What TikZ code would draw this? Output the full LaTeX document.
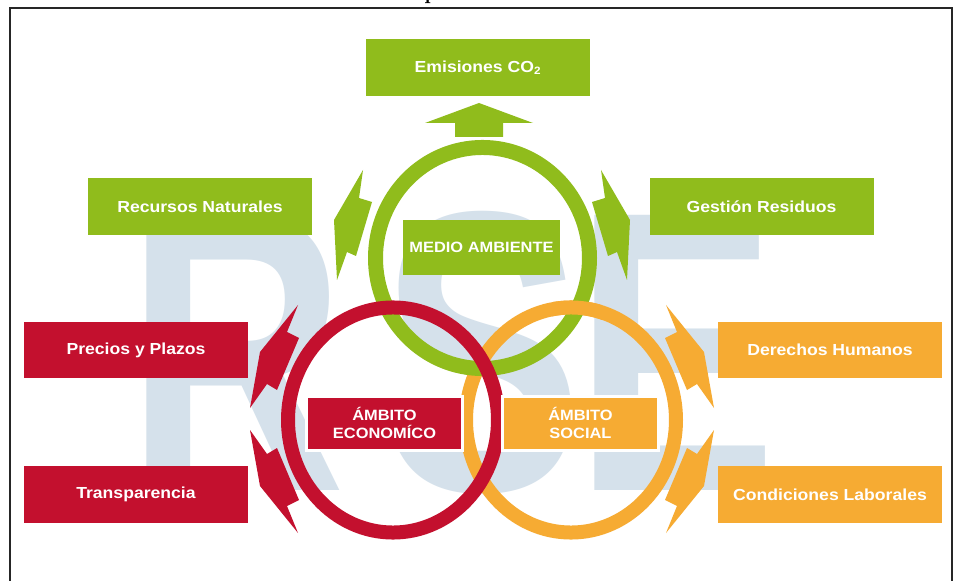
\documentclass[tikz,border=0pt]{standalone}
\usepackage{fontspec}
\newfontfamily\boxfont[FakeStretch=1.1]{Liberation Sans}
\newfontfamily\bgfont{Liberation Sans}
\definecolor{cgreen}{RGB}{144,188,28}
\definecolor{cred}{RGB}{195,16,46}
\definecolor{corange}{RGB}{246,171,51}
\definecolor{cbg}{RGB}{213,225,235}
\begin{document}
\begin{tikzpicture}[x=0.75pt,y=-0.75pt,
  lbl/.style={text=white, inner sep=0pt, font=\boxfont\bfseries\fontsize{12}{13.5}\selectfont, align=center},
  bigbox/.style={lbl, minimum width=168pt, minimum height=42.5pt},
  midbox/.style={lbl, font=\boxfont\bfseries\fontsize{11.2}{13.5}\selectfont, minimum width=116.5pt, minimum height=40.5pt},
  ringg/.style={cgreen, line width=11.25pt},
  ringr/.style={cred, line width=10.5pt},
  ringo/.style={corange, line width=10.5pt},
  bgletter/.style={text=cbg, inner sep=0pt, anchor=base, font=\bgfont\bfseries\fontsize{300}{300}\selectfont, xscale=0.76}
]
\useasboundingbox (0,0) rectangle (954,581);
\fill[white] (0,0) rectangle (954,581);
% background letters
\node[bgletter] (lr) at (236,490) {R};
\node[bgletter] (ls) at (482,490) {S};
\node[bgletter] (le) at (676,490) {E};
% frame and title fragment
\draw[line width=1.5pt, black!85] (10,600) -- (10,8) -- (952,8) -- (952,600);
\node[anchor=base west, inner sep=0pt, font=\bfseries\fontsize{16}{16}\selectfont] (title) at (424,0) {p};
% rings: orange, green, red; orange over green at the upper right crossing
\draw[ringo] (571,420) ellipse [x radius=78.75pt, y radius=84.4pt];
\draw[ringg] (482.5,258) ellipse [x radius=80.25pt, y radius=82.9pt];
\draw[ringr] (393,420) ellipse [x radius=78.75pt, y radius=84.4pt];
\begin{scope}
  \clip (552,283) rectangle (602,333);
  \draw[ringo] (571,420) ellipse [x radius=78.75pt, y radius=84.4pt];
\end{scope}
% bolt arrows
\fill[cgreen] (363,170) -- (359,198) -- (372,202) -- (356,256) -- (347,252) -- (337,280) -- (334,220) -- cycle;
\fill[cgreen] (601,170) -- (605,198) -- (592,202) -- (608,256) -- (617,252) -- (627,280) -- (630,220) -- cycle;
\fill[cred] (298,305) -- (287,332) -- (299,338) -- (277,390) -- (267,384) -- (250,408) -- (260,352) -- cycle;
\fill[cred] (298,533) -- (287,506) -- (299,500) -- (277,448) -- (267,454) -- (250,430) -- (260,486) -- cycle;
\fill[corange] (666,305) -- (677,332) -- (665,338) -- (687,390) -- (697,384) -- (714,408) -- (704,352) -- cycle;
\fill[corange] (666,533) -- (677,506) -- (665,500) -- (687,448) -- (697,454) -- (714,430) -- (704,486) -- cycle;
% up arrow
\fill[cgreen] (479,103) -- (533,123) -- (503,123) -- (503,137) -- (455,137) -- (455,123) -- (425,123) -- cycle;
% boxes
\node[bigbox, fill=cgreen] (emis) at (478,67.5) {Emisiones CO\textsubscript{2}};
\node[bigbox, fill=cgreen] (recu) at (200,206.5) {Recursos Naturales};
\node[bigbox, fill=cgreen] (gest) at (761.5,206.5) {Gestión Residuos};
\node[bigbox, fill=cred] (prec) at (136,350) {Precios y Plazos};
\node[bigbox, fill=cred] (trans) at (136,494.5) {Transparencia};
\node[bigbox, fill=corange] (dere) at (830,350) {Derechos Humanos};
\node[bigbox, fill=corange] (cond) at (830,494.5) {Condiciones Laborales};
\node[midbox, fill=cgreen, minimum width=117.75pt, minimum height=41.25pt] (medio) at (481.5,247.5) {MEDIO AMBIENTE};
\node[midbox, fill=cred, draw=white, line width=2.25pt] (econ) at (384.5,423) {ÁMBITO\\ECONOMÍCO};
\node[midbox, fill=corange, draw=white, line width=2.25pt] (soc) at (580.5,423) {ÁMBITO\\SOCIAL};
\end{tikzpicture}
\end{document}
